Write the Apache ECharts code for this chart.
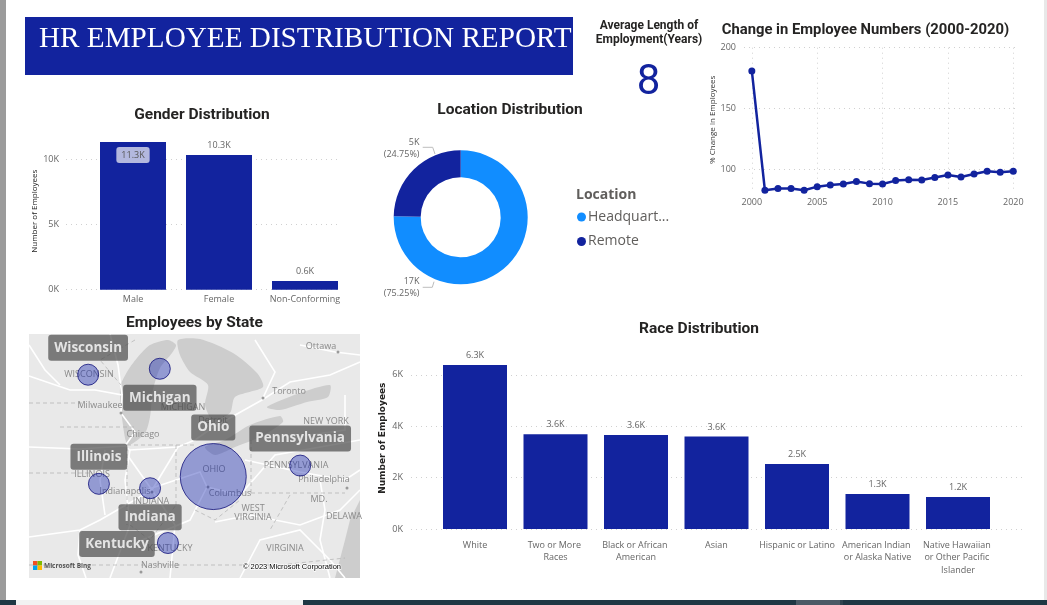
<!DOCTYPE html>
<html><head><meta charset="utf-8">
<style>html,body{margin:0;padding:0;background:#fff;overflow:hidden}#c{width:1047px;height:605px}</style>
<script src="https://cdn.jsdelivr.net/npm/echarts@6/dist/echarts.min.js"></script>
</head><body><div id="c"></div>
<script>
// ---------- data ----------
const genderCats = ['Male','Female','Non-Conforming'];
const genderVals = [11360,10360,670];
const locationNames = ['Headquarters','Remote'];
const locationShares = [75.25,24.75];
const locationCounts = ['17K','5K'];
const years = [2000,2001,2002,2003,2004,2005,2006,2007,2008,2009,2010,2011,2012,2013,2014,2015,2016,2017,2018,2019,2020];
const changePct = [180.8,82.4,83.8,83.8,82.4,85.4,86.8,87.6,89.6,87.9,87.6,90.4,91.2,90.9,92.9,95.1,93.4,95.9,98.1,97.3,98.1];
const raceCats = ['White','Two or More Races','Black or African American','Asian','Hispanic or Latino','American Indian or Alaska Native','Native Hawaiian or Other Pacific Islander'];
const raceVals = [6380,3690,3660,3600,2530,1360,1245];
const states = ['Ohio','Pennsylvania','Illinois','Indiana','Kentucky','Wisconsin','Michigan'];
const stateLon = [-82.69,-77.78,-89.15,-86.26,-85.25,-89.76,-85.71];
const stateLat = [40.15,40.65,39.82,39.62,37.13,44.78,45.05];
const stateEmployees = [16700,1100,860,800,500,480,670];

// ---------- styling ----------
const BLUE='#12239E', LIGHT='#118DFF', GREY='#666666', DARK='#252423';
const TITLE_FONT='Roboto', BODY_FONT='"Open Sans"';
const dotted={show:true,lineStyle:{type:[1,4],color:'#d0d0d0',width:1}};
const kFmt=v=>(v/1000)+'K';
const kFloor=p=>(Math.floor(p.value/100)/10).toFixed(1)+'K';
const stateLabelOffset={Ohio:[0,-49],Pennsylvania:[0,-27],Illinois:[0,-27],Indiana:[0,29],Kentucky:[-51,1],Wisconsin:[0,-27],Michigan:[0,29]};

function title(text,x,y,size){return {text,left:x,top:y,textAlign:'center',textVerticalAlign:'middle',padding:0,
  textStyle:{fontFamily:TITLE_FONT,fontWeight:'bold',fontSize:size||15.5,color:DARK}};}

// ---------- basemap (decoration only) ----------
const M={l:29,t:334,r:360,b:578};
const lakes=[
 [[120,388],[127,372],[137,358],[150,345],[168,340],[176,345],[172,353],[160,368],[153,390],[150,417],[145,433],[128,445],[123,425]],
 [[178,340],[200,339],[233,353],[257,373],[263,387],[235,397],[230,413],[213,420],[205,405],[208,385],[190,372],[180,355]],
 [[205,447],[225,440],[250,425],[280,416],[283,422],[260,437],[235,447],[215,455]],
 [[267,407],[300,393],[330,385],[328,397],[307,402],[280,410]]
];
const ocean=[[360,500],[350,520],[345,540],[335,578],[360,578]];
const roads=[
 [[29,447],[80,449],[125,446],[135,432],[121,413],[122,395],[95,390],[70,390],[29,376]],
 [[125,446],[130,450],[178,447],[195,440],[212,428],[262,400]],
 [[152,490],[128,456]],[[152,490],[178,447]],
 [[152,490],[100,520],[80,530],[29,537]],[[152,490],[175,525],[170,578]],
 [[80,530],[78,555],[86,578]],[[105,515],[100,480],[105,450]],
 [[140,492],[200,472],[207,487],[240,495],[275,455],[360,440]],
 [[207,487],[190,520],[130,545]],
 [[245,460],[300,472],[345,480],[360,470]],
 [[215,522],[250,515],[300,525],[340,510],[360,490]],
 [[240,578],[260,540],[300,530],[330,560],[345,578]],
 [[262,400],[290,382],[330,375],[360,362]],[[262,400],[275,372],[255,340]],
 [[300,345],[335,352],[360,355]],[[345,395],[345,430],[295,437]],
 [[29,345],[45,370],[60,385]],[[110,334],[118,365],[122,395]],
 [[130,450],[125,480],[130,525],[110,578]],[[320,480],[325,510],[320,540],[330,578]]
];
const borders=[
 [[60,427],[135,427]],[[127,447],[127,525]],[[176,445],[176,505]],[[127,445],[195,445]],
 [[251,440],[251,493]],[[251,493],[345,493]],[[29,473],[90,473]],[[29,565],[280,565],[345,558]],
 [[29,403],[85,403]],[[195,510],[215,520],[240,500]],[[130,525],[150,540],[176,505]],[[290,495],[270,530]],[[135,340],[100,360],[121,385]]
];
const places=[['Ottawa',321,346],['Toronto',289,391],['NEW YORK',326,421],['MICHIGAN',183,407],['Milwaukee',100,405],['Chicago',143,434],['Detroit',213,420],
 ['WISCONSIN',89,374],['ILLINOIS',92,474],['Indianapolis',125,491],['INDIANA',151,501],['OHIO',214,469],['Columbus',230,493],['PENNSYLVANIA',296,465],
 ['Philadelphia',324,479],['MD.',319,499],['DELAWA',344,516],['WEST',253,508],['VIRGINIA',253,517],['VIRGINIA',285,548],['KENTUCKY',170,548],['Nashville',160,565]];
const cities=[[121,413],[263,398],[208,487],[152,492],[347,488],[141,572],[338,352]];

const gfx=[];
const rect=(x,y,w,h,fill,z)=>gfx.push({type:'rect',shape:{x,y,width:w,height:h},style:{fill},z:z||0,silent:true});
const txt=(text,x,y,o)=>gfx.push({type:'text',x,y,z:(o&&o.z)||1,silent:true,style:Object.assign({text,align:'center',verticalAlign:'middle',fontFamily:BODY_FONT,fontSize:9,fill:'#8a8a8a'},o||{})});
rect(0,0,6,605,'#9b9b9b');
rect(1044,0,3,600,'#e8e8e8');
rect(0,600,1047,5,'#1f3744');
rect(16,600,287,5,'#f2f2f2');
rect(796,600,44,5,'#4b5a66');
rect(840,600,3,5,'#2f4450');
rect(25,17,548,58,BLUE);
txt('HR EMPLOYEE DISTRIBUTION REPORT',39,39,{align:'left',fontFamily:'"Liberation Serif"',fontSize:29.2,fill:'#ffffff'});
txt('Average Length of',649,25.5,{fontFamily:TITLE_FONT,fontWeight:'bold',fontSize:12,fill:DARK});
txt('Employment(Years)',649,39.5,{fontFamily:TITLE_FONT,fontWeight:'bold',fontSize:12,fill:DARK});
txt('8',648.5,83,{fontFamily:TITLE_FONT,fontSize:42,fill:BLUE});
// donut legend heading and leader lines
txt('Location',576,195,{align:'left',fontFamily:BODY_FONT,fontWeight:'bold',fontSize:14,fill:'#605e5c'});
[[[422.7,147.3],[432.7,147.3],[435,154]],[[422.7,287.3],[432.3,287.3],[434,281.7]]].forEach(p=>
  gfx.push({type:'polyline',shape:{points:p},style:{stroke:'#bdbdbd',fill:null,lineWidth:1},silent:true}));
// map
rect(M.l,M.t,M.r-M.l,M.b-M.t,'#e9e9e9');
lakes.forEach(p=>gfx.push({type:'polygon',shape:{points:p,smooth:0.25},style:{fill:'#cdcdcd'},silent:true,z:0}));
gfx.push({type:'polygon',shape:{points:ocean},style:{fill:'#cdcdcd'},silent:true,z:0});
roads.forEach(p=>gfx.push({type:'polyline',shape:{points:p},style:{stroke:'#ffffff',fill:null,lineWidth:1.6},silent:true,z:0}));
borders.forEach(p=>gfx.push({type:'polyline',shape:{points:p},style:{stroke:'#b0b0b0',fill:null,lineWidth:0.7,lineDash:[4,3]},silent:true,z:0}));
places.forEach(p=>txt(p[0],p[1],p[2]));
cities.forEach(c=>gfx.push({type:'circle',shape:{cx:c[0],cy:c[1],r:1.5},style:{fill:'#9a9a9a'},silent:true,z:1}));
rect(33,561,4.5,4.5,'#f25022',1);rect(37.5,561,4.5,4.5,'#7fba00',1);rect(33,565.5,4.5,4.5,'#00a4ef',1);rect(37.5,565.5,4.5,4.5,'#ffb900',1);
txt('Microsoft Bing',44,566,{align:'left',fontFamily:'"Open Sans"',fontWeight:'bold',fontSize:6.5,fill:'#555555'});
txt('\u00a9 2023 Microsoft Corporation',292,567,{fontFamily:'"Liberation Sans"',fontSize:7.5,fill:'#000000',stroke:'#ffffff',lineWidth:1.5});

const axisLab={color:GREY,fontFamily:BODY_FONT,fontSize:9};
const option={
 animation:false,
 backgroundColor:'#ffffff',
 title:[title('Gender Distribution',202,115),title('Location Distribution',510,110),title('Change in Employee Numbers (2000-2020)',865.5,30,14.8),
        title('Employees by State',194.5,323.5),title('Race Distribution',699,329)],
 graphic:{elements:gfx},
 legend:{data:locationNames,orient:'vertical',left:572,top:205,itemWidth:9,itemHeight:9,itemGap:10.5,icon:'circle',selectedMode:false,
   formatter:n=>n.length>9?n.slice(0,9)+'...':n,
   textStyle:{color:'#605e5c',fontFamily:BODY_FONT,fontSize:14,padding:[0,0,0,-3]}},
 grid:[
  {left:66,width:274,top:94.7,height:195},     // 0 gender frame
  {left:90,width:258,top:94.7,height:195},     // 1 gender bars
  {left:744,width:274.5,top:47.7,height:144.3},// 2 line
  {left:411,width:612,top:323.4,height:205.6}, // 3 race frame
  {left:434.75,width:563.5,top:323.4,height:205.6}, // 4 race bars
  {left:29,top:334,width:331,height:244}       // 5 map
 ],
 xAxis:[
  {gridIndex:0,type:'value',min:0,max:1,show:false},
  {gridIndex:1,type:'category',data:genderCats,axisLine:{show:false},axisTick:{show:false},axisLabel:Object.assign({},axisLab,{margin:5,interval:0})},
  {gridIndex:2,type:'value',min:1999.4,max:2020.4,splitLine:dotted,axisLine:{show:false},axisTick:{show:false,customValues:[2000,2005,2010,2015,2020]},
    axisLabel:Object.assign({},axisLab,{customValues:[2000,2005,2010,2015,2020],formatter:v=>String(v),margin:6})},
  {gridIndex:3,type:'value',min:0,max:1,show:false},
  {gridIndex:4,type:'category',data:raceCats,axisLine:{show:false},axisTick:{show:false},
    axisLabel:Object.assign({},axisLab,{margin:10,interval:0,width:76,overflow:'break',lineHeight:12.5})},
  {gridIndex:5,type:'value',min:-93.1,max:-74.4,show:false}
 ],
 yAxis:[
  {gridIndex:0,type:'value',min:0,max:15000,interval:5000,splitLine:Object.assign({showMaxLine:false},dotted),axisLine:{show:false},axisTick:{show:false},
    axisLabel:Object.assign({},axisLab,{formatter:kFmt,showMaxLabel:false,margin:7}),
    name:'Number of Employees',nameLocation:'middle',nameGap:27,nameTextStyle:{color:'#222',fontFamily:BODY_FONT,fontSize:8,padding:[0,38,0,0]}},
  {gridIndex:1,type:'value',min:0,max:15000,show:false},
  {gridIndex:2,type:'value',min:81,max:200,splitLine:Object.assign({},dotted),axisLine:{show:false},axisTick:{show:false,customValues:[100,150,200]},
    axisLabel:Object.assign({},axisLab,{customValues:[100,150,200],margin:8}),
    name:'% Change in Employees',nameLocation:'middle',nameGap:27,nameMoveOverlap:false,nameTextStyle:{color:'#333',fontFamily:BODY_FONT,fontSize:8}},
  {gridIndex:3,type:'value',min:0,max:8000,interval:2000,splitLine:Object.assign({showMaxLine:false},dotted),axisLine:{show:false},axisTick:{show:false},
    axisLabel:Object.assign({},axisLab,{formatter:kFmt,showMaxLabel:false,margin:8}),
    name:'Number of Employees',nameLocation:'middle',nameGap:24,nameMoveOverlap:false,nameTextStyle:{color:'#252423',fontFamily:'"DejaVu Sans"',fontSize:9,fontWeight:'bold',padding:[0,24,0,0]}},
  {gridIndex:4,type:'value',min:0,max:8000,show:false},
  {gridIndex:5,type:'value',min:35.54,max:46.63,show:false}
 ],
 series:[
  {type:'bar',xAxisIndex:1,yAxisIndex:1,barWidth:66,itemStyle:{color:BLUE},
   label:{show:true,position:'top',distance:5,color:GREY,fontFamily:BODY_FONT,fontSize:9,formatter:kFloor},
   data:genderVals.map((v,i)=>i===0?{value:v,label:{position:'insideTop',distance:5,backgroundColor:'#b3b8de',borderRadius:3,padding:[4,5,3,5],color:'#555'}}:v)},
  {type:'pie',center:[460.7,217.3],radius:[40,67],startAngle:90,clockwise:true,color:[LIGHT,BLUE],
   label:{show:true,position:'outside',color:GREY,fontFamily:BODY_FONT,fontSize:9,lineHeight:12,align:'right',
     formatter:p=>locationCounts[p.dataIndex]+'\n('+p.value.toFixed(2)+'%)'},
   labelLine:{show:false},
   labelLayout:p=>({x:419.5,y:p.dataIndex===0?287.5:148.5,align:'right',verticalAlign:'middle'}),
   data:locationNames.map((n,i)=>({name:n,value:locationShares[i]}))},
  {type:'line',xAxisIndex:2,yAxisIndex:2,symbol:'circle',symbolSize:7,showSymbol:true,clip:false,
   lineStyle:{color:BLUE,width:2.5},itemStyle:{color:BLUE},
   data:years.map((y,i)=>[y,changePct[i]])},
  {type:'bar',xAxisIndex:4,yAxisIndex:4,barWidth:64,itemStyle:{color:BLUE},
   label:{show:true,position:'top',distance:5,color:GREY,fontFamily:BODY_FONT,fontSize:9,formatter:kFloor},
   data:raceVals},
  {type:'scatter',xAxisIndex:5,yAxisIndex:5,
   symbolSize:d=>Math.max(21,66*Math.sqrt(d[2]/Math.max.apply(null,stateEmployees))),
   itemStyle:{color:'rgba(18,35,175,0.5)',borderColor:'#12127a',borderWidth:1},
   data:states.map((s,i)=>({name:s,value:[stateLon[i],stateLat[i],stateEmployees[i]],
     label:{show:true,position:'inside',offset:stateLabelOffset[s],formatter:s,color:'#ffffff',fontFamily:BODY_FONT,fontWeight:'bold',fontSize:13.5,
       backgroundColor:'rgba(70,70,70,0.85)',borderRadius:3,padding:[6,6,6,6]}}))}
 ]
};
echarts.init(document.getElementById('c')).setOption(option);
</script></body></html>
